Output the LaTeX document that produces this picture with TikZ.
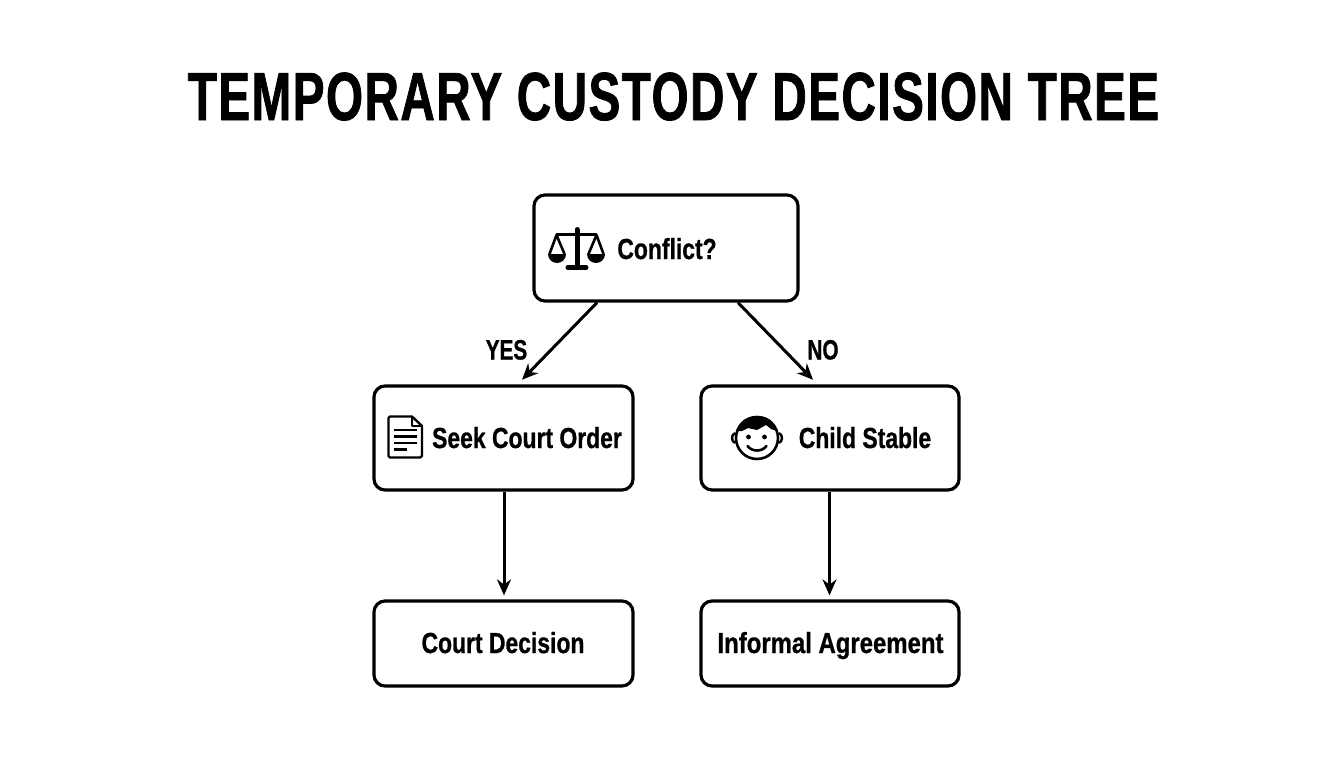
\documentclass[tikz,border=0pt]{standalone}
\usepackage{fontspec}
\setmainfont{Liberation Sans}[BoldFont={Liberation Sans Bold}]
\newfontfamily\narrowbold{Liberation Sans Bold}[FakeStretch=0.79,FakeBold=0.8]
\newfontfamily\widerbold{Liberation Sans Bold}[FakeStretch=0.825,FakeBold=0.8]
\newfontfamily\edgebold{Liberation Sans Bold}[FakeStretch=0.74,FakeBold=0.8]
\newfontfamily\titlebold{Liberation Sans Bold}[FakeStretch=0.70,FakeBold=1.1,LetterSpace=2.2]
\usetikzlibrary{arrows.meta,positioning}
\tikzset{
  box/.style={draw=black,line width=3.2pt,rounded corners=11pt,fill=white,inner sep=0pt},
  lbl/.style={font=\narrowbold\fontsize{29}{32}\selectfont,text=black,inner sep=0pt,anchor=base},
  lblwide/.style={font=\widerbold\fontsize{29}{32}\selectfont,text=black,inner sep=0pt,anchor=base},
  edgelbl/.style={font=\edgebold\fontsize{28}{30}\selectfont,text=black,inner sep=0pt,anchor=base},
  conn/.style={draw=black,line width=3pt,-{Stealth[length=16pt,width=14pt]}},
  ico/.style={draw=black,line width=2.6pt,line cap=round,line join=round}
}
\begin{document}
\begin{tikzpicture}[x=1pt,y=-1pt]
\useasboundingbox (0,0) rectangle (1344,768);
\fill[white] (0,0) rectangle (1344,768);
\node[font=\titlebold\fontsize{68}{72}\selectfont,anchor=base,inner sep=0pt] (title) at (673.5,120) {TEMPORARY CUSTODY DECISION TREE};
\node[box,minimum width=264pt,minimum height=106pt] (conflict) at (666,248) {};
\node[box,minimum width=259pt,minimum height=104pt] (seek) at (503.5,438) {};
\node[box,minimum width=258pt,minimum height=104pt] (child) at (830,438) {};
\node[box,minimum width=259pt,minimum height=85pt] (court) at (503.5,643.5) {};
\node[box,minimum width=258pt,minimum height=85pt] (informal) at (830,643.5) {};
\node[lbl] (t1) at (667,259) {Conflict?};
\node[lbl] (t2) at (527,448) {Seek Court Order};
\node[lbl] (t3) at (865,448) {Child Stable};
\node[lbl] (t4) at (503,653) {Court Decision};
\node[lblwide] (t5) at (830.5,653) {Informal Agreement};
\node[edgelbl] (yes) at (506.5,359.5) {YES};
\node[edgelbl] (no) at (823,359.5) {NO};
\draw[conn,shorten >=6.5pt] ([xshift=-69pt]conflict.south) -- ([xshift=14pt]seek.north);
\draw[conn,shorten >=6.5pt] ([xshift=72pt]conflict.south) -- ([xshift=-12.5pt]child.north);
\draw[conn,shorten >=4pt] ([xshift=0.5pt]seek.south) -- ([xshift=0.5pt]court.north);
\draw[conn,shorten >=4pt] ([xshift=-0.5pt]child.south) -- ([xshift=-0.5pt]informal.north);
% scales
\draw[black,line width=5pt,line cap=round] (577,229.5) -- (577,267);
\draw[black,line width=5pt,line cap=round] (568,267.5) -- (586,267.5);
\draw[black,line width=3pt] (556,234.5) -- (597,234.5);
\draw[ico] (549.5,254) -- (556.5,235) -- (564.5,254);
\draw[ico] (588.5,254) -- (596.5,235) -- (603.5,254);
\fill[black] (548,254) -- (566,254) arc[start angle=0,end angle=-180,radius=9pt] -- cycle;
\fill[black] (587,254) -- (605,254) arc[start angle=0,end angle=-180,radius=9pt] -- cycle;
% document
\draw[ico,line width=2.4pt] (412,416.5) -- (390,416.5) -- (388.5,418) -- (388.5,456) -- (390,457.5) -- (420,457.5) -- (422,456) -- (422,426) -- cycle;
\draw[ico,line width=2pt] (412,417) -- (412,425.5) -- (422,425.5);
\draw[black,line width=2.2pt] (394,430) -- (417,430) (394,436.5) -- (417,436.5) (394,443) -- (417,443) (394,449.5) -- (407,449.5);
% child
\draw[black,line width=2.4pt] (735,433) .. controls (731,435) and (731,441) .. (735,443);
\draw[black,line width=2.4pt] (779,433) .. controls (783,435) and (783,441) .. (779,443);
\draw[black,line width=2.6pt,fill=white] (757,438) circle[radius=21pt];
\fill[black] (737,431) .. controls (739,421) and (748,416) .. (757,416) .. controls (768,416) and (775,422) .. (777,431) -- (771,429) -- (766,425) -- (757,430) -- (748,428) -- (742,431) -- cycle;
\fill[black] (748.5,437) circle[radius=2.4pt] (764.5,437) circle[radius=2.4pt];
\draw[ico] (747.5,446) .. controls (752,452) and (762,452) .. (766.5,446);
\end{tikzpicture}
\end{document}
